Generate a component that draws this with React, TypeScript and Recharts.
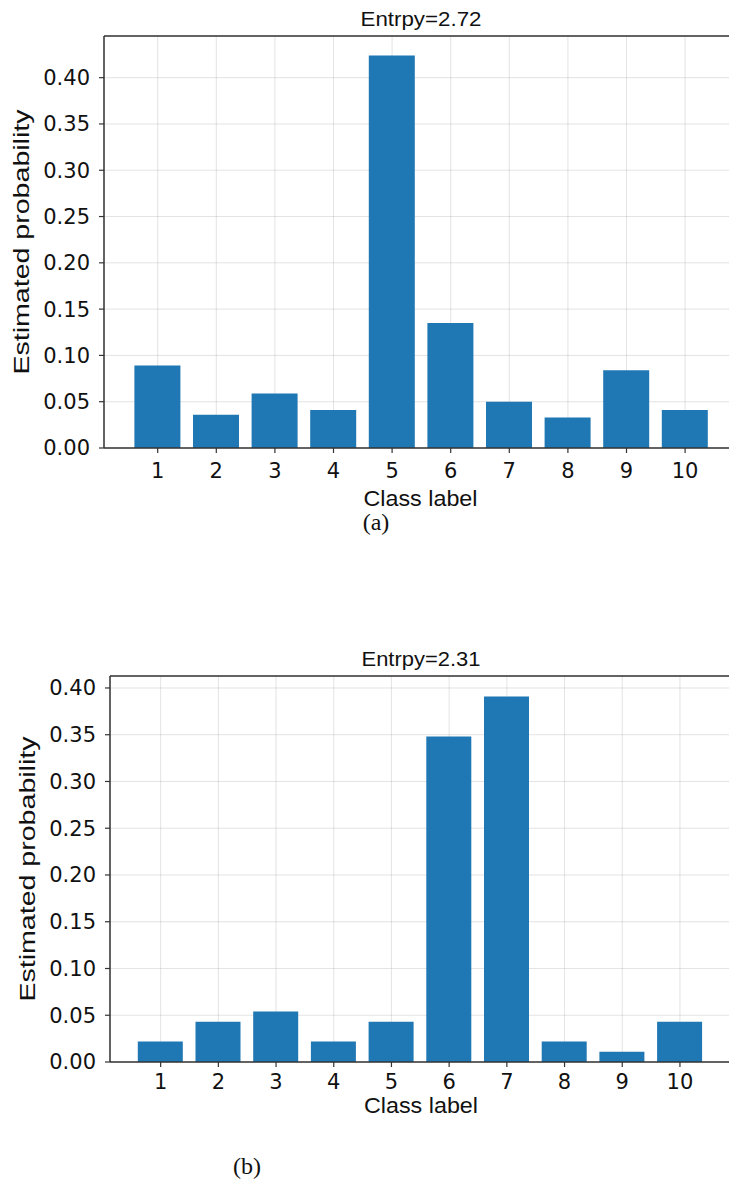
import React from "react";
import { BarChart, Bar, XAxis, YAxis, CartesianGrid, ReferenceLine, Label } from "recharts";

// class labels on the x axis
const classLabels = ["1", "2", "3", "4", "5", "6", "7", "8", "9", "10"];
// estimated probability per class, panel (a)
const probsA = [0.089, 0.036, 0.059, 0.041, 0.424, 0.135, 0.05, 0.033, 0.084, 0.041];
// estimated probability per class, panel (b)
const probsB = [0.022, 0.043, 0.054, 0.022, 0.043, 0.348, 0.391, 0.022, 0.011, 0.043];
const probTicks = [0, 0.05, 0.1, 0.15, 0.2, 0.25, 0.3, 0.35, 0.4];
const titles = ["Entrpy=2.72", "Entrpy=2.31"];
const captions = ["(a)", "(b)"];

const TICK_FONT = "'DejaVu Sans', sans-serif";
const LABEL_FONT = "'Liberation Sans', Arial, sans-serif";
const SPINE = "#333333";

const toRows = (probs: number[]) => classLabels.map((label, i) => ({ label, p: probs[i] }));

interface PanelProps {
  probs: number[];
  yMax: number;
  plotLeft: number;
  plotRight: number;
  padLeft: number;
  padRight: number;
  barSize: number;
  height: number;
  yLabelX: number;
  xTickMargin: number;
  xLabelOffset: number;
}

function Panel(p: PanelProps) {
  const width = 740;
  return (
    <BarChart
      width={width}
      height={p.height}
      data={toRows(p.probs)}
      margin={{ top: 36, right: width - p.plotRight, left: 0, bottom: 0 }}
      barCategoryGap={0}
    >
      <CartesianGrid stroke="#b0b0b0" strokeOpacity={0.35} strokeWidth={1} />
      <XAxis
        dataKey="label"
        height={72}
        padding={{ left: p.padLeft, right: p.padRight }}
        axisLine={{ stroke: SPINE, strokeWidth: 1.5 }}
        tickLine={{ stroke: SPINE, strokeWidth: 1.2 }}
        tickSize={5}
        tickMargin={p.xTickMargin}
        interval={0}
        tick={{ fill: "#111", fontSize: 21, fontFamily: TICK_FONT }}
      >
        <Label
          content={(props: any) => {
            const vb = props.viewBox || { x: 0, y: 0, width: 0 };
            const cx = vb.x + vb.width / 2;
            return (
              <text
                x={cx}
                y={vb.y + p.xLabelOffset}
                textAnchor="middle"
                fontFamily={LABEL_FONT}
                fontSize={22}
                fill="#111"
                textLength={114}
                lengthAdjust="spacingAndGlyphs"
              >
                Class label
              </text>
            );
          }}
        />
      </XAxis>
      <YAxis
        type="number"
        width={p.plotLeft}
        domain={[0, p.yMax]}
        ticks={probTicks}
        tickFormatter={(v: number) => v.toFixed(2)}
        axisLine={{ stroke: SPINE, strokeWidth: 1.5 }}
        tickLine={{ stroke: SPINE, strokeWidth: 1.2 }}
        tickSize={5}
        tickMargin={9}
        interval={0}
        tick={{ fill: "#111", fontSize: 21, fontFamily: TICK_FONT }}
      >
        <Label
          content={(props: any) => {
            const vb = props.viewBox || { y: 0, height: 0 };
            const cy = vb.y + vb.height / 2;
            return (
              <text
                x={p.yLabelX}
                y={cy}
                transform={`rotate(-90 ${p.yLabelX} ${cy})`}
                textAnchor="middle"
                fontFamily={LABEL_FONT}
                fontSize={22}
                fill="#111"
                textLength={265}
                lengthAdjust="spacingAndGlyphs"
              >
                Estimated probability
              </text>
            );
          }}
        />
      </YAxis>
      <Bar dataKey="p" fill="#1f77b4" barSize={p.barSize} isAnimationActive={false} />
      <ReferenceLine y={p.yMax} stroke={SPINE} strokeWidth={1.5} />
    </BarChart>
  );
}

export default function App() {
  return (
    <div
      style={{
        position: "absolute",
        left: 0,
        top: 0,
        width: 729,
        height: 1189,
        overflow: "hidden",
        background: "#fff",
      }}
    >
      <div style={{ position: "absolute", left: 0, top: 0 }}>
        <Panel
          probs={probsA}
          yMax={0.445}
          plotLeft={104}
          plotRight={737}
          padLeft={24.4}
          padRight={22.6}
          barSize={46}
          height={520}
          yLabelX={29}
          xTickMargin={10}
          xLabelOffset={58}
        />
      </div>
      <div style={{ position: "absolute", left: 0, top: 640 }}>
        <Panel
          probs={probsB}
          yMax={0.4128}
          plotLeft={110}
          plotRight={732}
          padLeft={21.8}
          padRight={23.2}
          barSize={45}
          height={494}
          yLabelX={35}
          xTickMargin={7}
          xLabelOffset={51}
        />
      </div>
      <svg
        width={729}
        height={1189}
        style={{ position: "absolute", left: 0, top: 0, pointerEvents: "none" }}
      >
        <text
          x={421}
          y={26}
          textAnchor="middle"
          fontFamily={LABEL_FONT}
          fontSize={21}
          fill="#111"
          textLength={121}
          lengthAdjust="spacingAndGlyphs"
        >
          {titles[0]}
        </text>
        <text
          x={421}
          y={666}
          textAnchor="middle"
          fontFamily={LABEL_FONT}
          fontSize={21}
          fill="#111"
          textLength={119}
          lengthAdjust="spacingAndGlyphs"
        >
          {titles[1]}
        </text>
        <text x={376} y={530} textAnchor="middle" fontFamily="'Liberation Serif', serif" fontSize={24} fill="#111">
          {captions[0]}
        </text>
        <text x={247} y={1174} textAnchor="middle" fontFamily="'Liberation Serif', serif" fontSize={24} fill="#111">
          {captions[1]}
        </text>
      </svg>
    </div>
  );
}
